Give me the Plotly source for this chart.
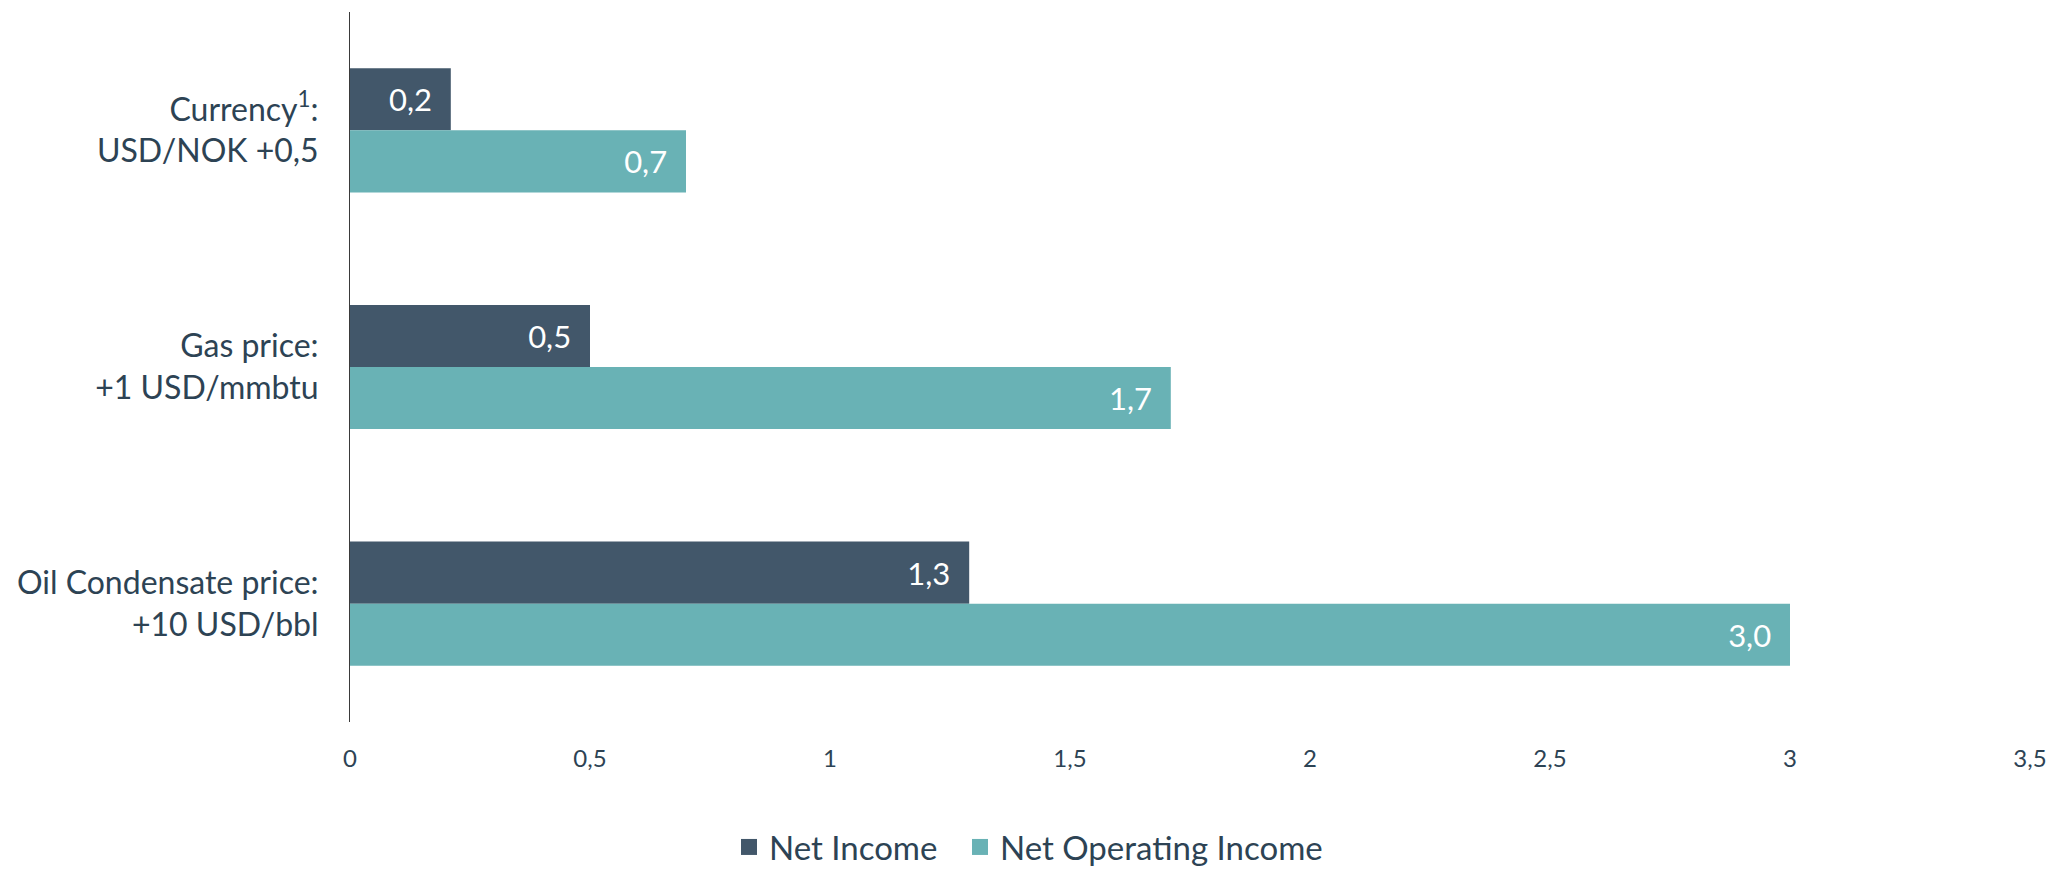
import plotly.graph_objects as go

categories = ["Currency<sup>1</sup>:<br>USD/NOK +0,5", "Gas price:<br>+1 USD/mmbtu", "Oil Condensate price:<br>+10 USD/bbl"]
net_income = [0.21, 0.5, 1.29]
net_operating_income = [0.7, 1.71, 3.0]
series_names = ["Net Income", "Net Operating Income"]
x_ticks = [0, 0.5, 1, 1.5, 2, 2.5, 3, 3.5]

dark = "#42576A"
teal = "#69B2B5"
txt = "#2D4354"
font_family = "Lato, 'Noto Sans', sans-serif"

W, H = 2057, 871
legend_ids = ["legend", "legend2"]
legend_left = [729, 960]

fig = go.Figure()
for name, vals, col, lg in [(series_names[0], net_income, dark, legend_ids[0]),
                            (series_names[1], net_operating_income, teal, legend_ids[1])]:
    fig.add_trace(go.Bar(
        y=categories, x=vals, name=name, orientation="h",
        marker=dict(color=col, line=dict(width=0)),
        text=[f"{v:.1f}".replace(".", ",") for v in vals],
        texttemplate="%{text}&nbsp;&nbsp;",
        textposition="inside", insidetextanchor="end",
        textfont=dict(color="white", size=31, family=font_family),
        showlegend=False,
    ))
    # legend entry with larger square symbol
    fig.add_trace(go.Scatter(
        x=[None], y=[None], mode="markers", name=name, legend=lg,
        marker=dict(symbol="square", size=17, color=col),
        showlegend=True, hoverinfo="skip",
    ))

leg_common = dict(orientation="h", xref="container", xanchor="left",
                  yref="container", y=(H - 847) / H, yanchor="middle",
                  font=dict(size=33, color=txt, family=font_family),
                  itemwidth=30, bgcolor="rgba(0,0,0,0)")

fig.update_layout(
    width=W, height=H,
    margin=dict(l=350, r=27, t=12, b=149),
    paper_bgcolor="white", plot_bgcolor="white",
    barmode="group", bargap=0.475, bargroupgap=0,
    separators=",.",
    font=dict(family=font_family, color=txt, size=32),
    showlegend=True,
    legend=dict(x=legend_left[0] / W, **leg_common),
    legend2=dict(x=legend_left[1] / W, **leg_common),
    xaxis=dict(range=[0, 3.5], tickvals=x_ticks, showgrid=False, zeroline=False,
               showline=False, ticks="", tickfont=dict(size=24, color=txt),
               ticklabelstandoff=20, automargin=False),
    yaxis=dict(autorange="reversed", showgrid=False, zeroline=False, showline=True,
               linecolor="#3A3A3A", linewidth=1, ticks="", ticklabelstandoff=24,
               tickfont=dict(size=32, color=txt), automargin=False),
)

fig.write_html("out.html", config={"displayModeBar": False},
               post_script="document.body.style.margin='0';")
